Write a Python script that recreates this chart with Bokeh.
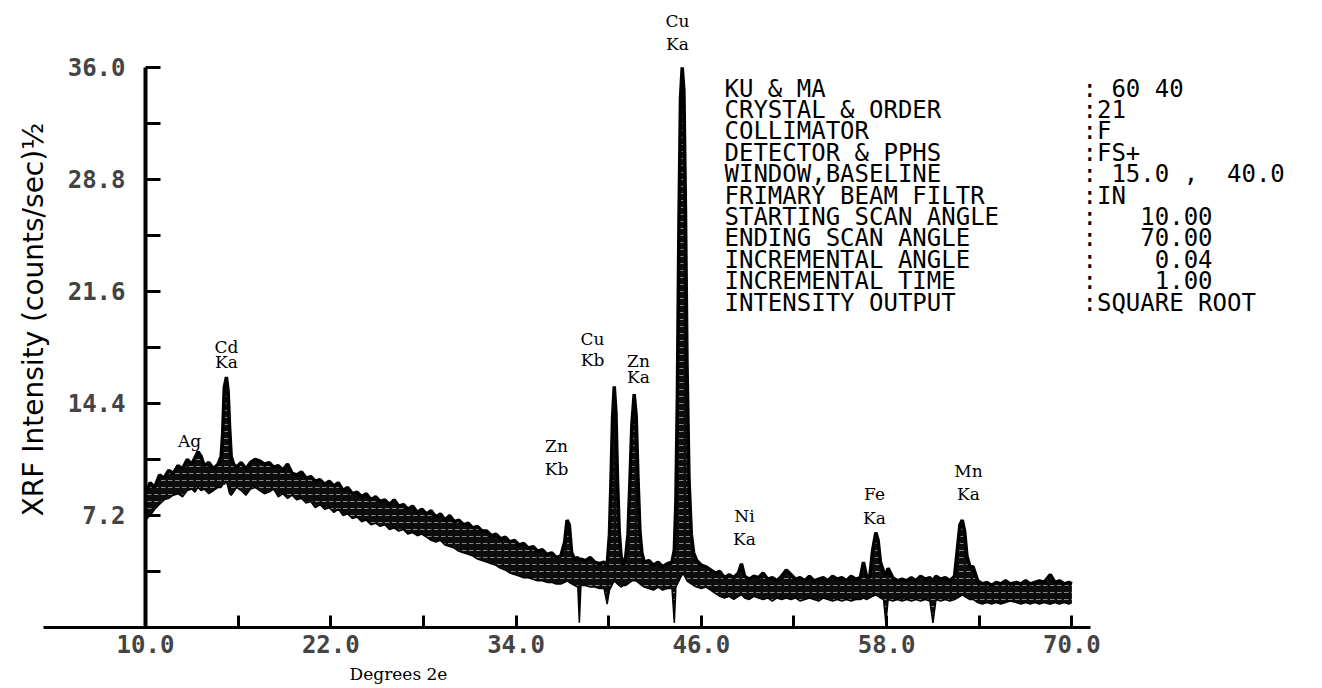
import math
from bokeh.plotting import figure
from bokeh.models import Range1d, FixedTicker, PrintfTickFormatter
from bokeh.embed import file_html
from bokeh.resources import INLINE
from bokeh.core.properties import value

# ---------------- data ----------------
angle = [10.0, 10.3, 10.6, 10.9, 11.2, 11.5, 11.8, 12.1, 12.4, 12.7, 13.0, 13.2, 13.4, 13.6, 13.8,
         14.1, 14.4, 14.7, 14.9, 15.0, 15.1, 15.24, 15.35, 15.45, 15.55, 15.7, 15.9, 16.2, 16.5, 16.8,
         17.1, 17.4, 17.7, 18.0, 18.3, 18.6, 18.9, 19.2, 19.5, 19.8, 20.1, 20.4, 20.7, 21.0, 21.3,
         21.6, 21.9, 22.2, 22.5, 22.8, 23.1, 23.4, 23.7, 24.0, 24.3, 24.6, 24.9, 25.2, 25.5, 25.8,
         26.1, 26.4, 26.7, 27.0, 27.3, 27.6, 27.9, 28.2, 28.5, 28.8, 29.1, 29.4, 29.7, 30.0, 30.3,
         30.6, 30.9, 31.2, 31.5, 31.8, 32.1, 32.4, 32.7, 33.0, 33.3, 33.6, 33.9, 34.2, 34.5, 34.8,
         35.1, 35.4, 35.7, 36.0, 36.3, 36.6, 36.9, 37.15, 37.3, 37.45, 37.6, 37.8, 38.0, 38.1, 38.2,
         38.5, 38.8, 39.1, 39.4, 39.7, 39.9, 40.05, 40.15, 40.25, 40.36, 40.47, 40.57, 40.68, 40.8, 40.95,
         41.1, 41.25, 41.38, 41.5, 41.65, 41.78, 41.9, 42.02, 42.15, 42.3, 42.6, 42.9, 43.2, 43.5, 43.8,
         44.1, 44.25, 44.35, 44.45, 44.55, 44.65, 44.76, 44.87, 44.97, 45.07, 45.2, 45.35, 45.5, 45.7, 46.0,
         46.3, 46.6, 46.9, 47.2, 47.5, 47.8, 48.1, 48.4, 48.6, 48.8, 49.1, 49.4, 49.7, 50.0, 50.3,
         50.6, 50.9, 51.2, 51.5, 51.8, 52.1, 52.4, 52.7, 53.0, 53.3, 53.6, 53.9, 54.2, 54.5, 54.8,
         55.1, 55.4, 55.7, 56.0, 56.3, 56.5, 56.7, 56.9, 57.1, 57.3, 57.45, 57.6, 57.8, 57.95, 58.1,
         58.4, 58.7, 59.0, 59.3, 59.6, 59.9, 60.2, 60.5, 60.8, 61.0, 61.2, 61.5, 61.8, 62.1, 62.4,
         62.6, 62.75, 62.9, 63.05, 63.2, 63.4, 63.6, 63.9, 64.2, 64.5, 64.8, 65.1, 65.4, 65.7, 66.0,
         66.4, 66.7, 67.0, 67.3, 67.6, 67.9, 68.2, 68.6, 68.9, 69.2, 69.5, 69.8, 70.0]
upper = [8.6, 9.3, 9.0, 9.8, 9.6, 10.1, 9.9, 10.4, 10.2, 10.8, 10.5, 10.9, 11.3, 11.0, 10.4,
         10.6, 10.2, 10.5, 11.0, 12.5, 15.4, 16.1, 15.2, 12.8, 11.0, 10.5, 10.3, 10.6, 10.2, 10.6,
         10.8, 10.7, 10.5, 10.6, 10.3, 10.4, 10.1, 10.5, 9.9, 9.8, 10.0, 9.6, 9.7, 9.4, 9.5,
         9.2, 9.4, 9.1, 9.3, 8.8, 9.0, 8.6, 8.7, 8.4, 8.6, 8.2, 8.4, 8.1, 8.2, 7.9,
         8.2, 7.8, 7.9, 7.6, 7.8, 7.4, 7.6, 7.3, 7.5, 7.1, 7.3, 6.9, 7.2, 6.8, 6.9,
         6.6, 6.7, 6.4, 6.5, 6.2, 6.2, 5.9, 6.0, 5.7, 5.8, 5.5, 5.6, 5.3, 5.4, 5.1,
         5.2, 4.9, 5.0, 4.7, 4.8, 4.5, 4.6, 5.5, 6.9, 6.6, 4.8, 4.4, 4.5, 4.3, 4.4,
         4.3, 4.5, 4.2, 4.1, 4.2, 4.0, 6.0, 9.5, 13.5, 15.5, 13.8, 9.5, 6.2, 4.6, 4.0,
         4.5, 6.0, 9.5, 13.0, 15.0, 13.6, 9.5, 6.2, 4.8, 4.2, 4.3, 4.0, 4.2, 3.9, 4.1,
         4.2, 5.0, 8.0, 15.0, 26.0, 34.0, 36.0, 34.5, 27.0, 17.0, 9.5, 6.0, 4.8, 4.3, 4.0,
         3.9, 3.7, 3.5, 3.6, 3.2, 3.4, 3.2, 3.5, 4.1, 3.3, 3.1, 3.3, 3.2, 3.5, 3.1,
         3.2, 3.0, 3.3, 3.7, 3.4, 3.1, 3.2, 3.0, 3.3, 3.0, 3.1, 3.2, 3.0, 3.3, 3.1,
         3.2, 3.0, 3.3, 3.1, 3.2, 4.2, 3.3, 3.2, 5.0, 6.1, 5.6, 4.2, 3.6, 3.4, 3.8,
         3.2, 3.0, 3.1, 3.0, 3.2, 3.0, 3.3, 3.1, 3.2, 3.0, 3.3, 3.1, 3.2, 3.0, 3.3,
         5.2, 6.6, 6.9, 6.2, 4.6, 3.9, 3.9, 3.0, 2.8, 2.9, 2.7, 2.9, 2.8, 3.0, 2.8,
         2.9, 2.8, 3.0, 2.8, 2.9, 3.0, 2.9, 3.4, 2.9, 3.0, 2.8, 2.9, 2.8]
lower = [6.9, 7.2, 7.6, 7.9, 8.2, 8.3, 8.5, 8.6, 8.4, 8.8, 8.9, 8.7, 9.0, 8.8, 8.9,
         8.6, 8.8, 9.0, 9.0, 9.2, 9.2, 9.4, 9.0, 8.6, 8.5, 8.7, 9.0, 8.8, 8.5, 8.9,
         9.0, 8.8, 8.6, 8.7, 8.9, 8.4, 8.6, 8.3, 8.5, 8.2, 8.3, 8.0, 8.1, 7.7, 7.9,
         7.6, 7.7, 7.4, 7.6, 7.2, 7.3, 7.0, 7.1, 6.8, 6.9, 6.6, 6.7, 6.5, 6.6, 6.3,
         6.4, 6.2, 6.3, 6.0, 6.1, 5.9, 6.0, 5.8, 5.6, 5.5, 5.6, 5.3, 5.2, 5.1, 4.9,
         4.8, 4.7, 4.6, 4.4, 4.3, 4.2, 4.1, 4.0, 3.8, 3.7, 3.5, 3.4, 3.3, 3.2, 3.2,
         3.1, 3.0, 3.0, 2.9, 2.9, 2.8, 2.8, 2.9, 3.0, 2.9, 2.8, 2.7, 2.6, 0.3, 2.7,
         2.7, 2.6, 2.6, 2.5, 2.5, 1.5, 2.4, 2.6, 2.8, 3.0, 2.9, 2.8, 2.7, 2.6, 2.7,
         2.7, 2.8, 2.9, 3.0, 3.0, 3.0, 2.9, 2.8, 2.7, 2.6, 2.5, 2.4, 2.6, 2.4, 2.5,
         2.5, 0.3, 2.6, 2.8, 3.0, 3.2, 3.4, 3.4, 3.2, 3.0, 2.9, 2.8, 2.7, 2.6, 2.5,
         2.6, 2.4, 2.2, 2.0, 1.9, 2.0, 1.8, 2.0, 2.1, 1.9, 1.8, 2.0, 1.9, 1.8, 1.9,
         1.7, 1.9, 1.8, 1.9, 1.8, 1.9, 1.7, 1.8, 1.9, 1.8, 1.7, 1.9, 1.8, 1.7, 1.8,
         1.7, 1.8, 1.7, 1.8, 1.8, 1.9, 1.8, 1.9, 2.0, 2.1, 2.0, 1.9, 1.8, 0.3, 1.8,
         1.7, 1.8, 1.7, 1.8, 1.7, 1.8, 1.7, 1.8, 1.7, 0.3, 1.8, 1.7, 1.8, 1.7, 1.8,
         1.9, 2.0, 2.1, 2.0, 1.9, 1.8, 1.8, 1.6, 1.5, 1.6, 1.5, 1.6, 1.5, 1.6, 1.7,
         1.6, 1.5, 1.6, 1.5, 1.6, 1.5, 1.6, 1.5, 1.6, 1.5, 1.6, 1.5, 1.6]

# axis ticks
x_ticks = [10, 22, 34, 46, 58, 70]
x_minor = [16, 28, 40, 52, 64]
y_ticks = [7.2, 14.4, 21.6, 28.8, 36.0]
y_minor = [3.6, 10.8, 18.0, 25.2, 32.4]

# titles
y_title = "XRF Intensity (counts/sec)½"
x_title = "Degrees 2e"

# peak identifications (element, line)
peak_element = ["Ag", "Cd", "Zn", "Cu", "Zn", "Cu", "Ni", "Fe", "Mn"]
peak_line = ["", "Ka", "Kb", "Kb", "Ka", "Ka", "Ka", "Ka", "Ka"]

# instrument settings printed on the chart
param_names = ["KU & MA", "CRYSTAL & ORDER", "COLLIMATOR", "DETECTOR & PPHS", "WINDOW,BASELINE",
               "FRIMARY BEAM FILTR", "STARTING SCAN ANGLE", "ENDING SCAN ANGLE",
               "INCREMENTAL ANGLE", "INCREMENTAL TIME", "INTENSITY OUTPUT"]
param_values = [": 60 40", ":21", ":F", ":FS+", ": 15.0 ,  40.0", ":IN", ":   10.00",
                ":   70.00", ":    0.04", ":    1.00", ":SQUARE ROOT"]

# ---------------- layout ----------------
W, H = 1322, 688
PX_DEG = 15.44      # pixels per degree
PX_UNIT = 15.56     # pixels per intensity unit
Y_AXIS_PX = 145     # screen x of the 10 deg axis
X_AXIS_PX = 627     # screen y (from top) of the zero line


def dx(px):
    return 10 + (px - Y_AXIS_PX) / PX_DEG


def dy(py):
    return (X_AXIS_PX - py) / PX_UNIT


p = figure(width=W, height=H, x_range=Range1d(dx(0), dx(W)), y_range=Range1d(dy(H), dy(0)),
           output_backend="svg", toolbar_location=None,
           min_border_left=0, min_border_right=0, min_border_top=0, min_border_bottom=0)
p.title.visible = False
p.outline_line_color = None
p.grid.visible = False
p.background_fill_color = "white"
p.border_fill_color = "white"

ya = p.yaxis[0]
ya.fixed_location = 10
ya.bounds = (0, 36)
ya.ticker = FixedTicker(ticks=y_ticks, minor_ticks=y_minor)
ya.formatter = PrintfTickFormatter(format="%.1f")
ya.axis_line_width = 4
ya.major_tick_in = 15
ya.major_tick_out = 0
ya.minor_tick_in = 15
ya.minor_tick_out = 0
ya.major_tick_line_width = 3
ya.minor_tick_line_width = 3
ya.major_label_text_font = "DejaVu Sans Mono"
ya.major_label_text_font_style = "bold"
ya.major_label_text_font_size = "24px"
ya.major_label_standoff = 20

xa = p.xaxis[0]
xa.fixed_location = 0
xa.bounds = (dx(43), dx(1090))
xa.ticker = FixedTicker(ticks=x_ticks, minor_ticks=x_minor)
xa.formatter = PrintfTickFormatter(format="%.1f")
xa.axis_line_width = 3
xa.major_tick_in = 12
xa.major_tick_out = 0
xa.minor_tick_in = 12
xa.minor_tick_out = 0
xa.major_tick_line_width = 3
xa.minor_tick_line_width = 3
xa.major_label_text_font = "DejaVu Sans Mono"
xa.major_label_text_font_style = "bold"
xa.major_label_text_font_size = "24px"
xa.major_label_standoff = 7

# spectrum band
p.varea(x=angle, y1=lower, y2=upper, fill_color="#0d0d0d",
        hatch_pattern="horizontal_dash", hatch_color="white", hatch_alpha=0.5,
        hatch_scale=7, hatch_weight=1)
p.line(angle, upper, line_color="black", line_width=3.5)
p.line(angle, lower, line_color="black", line_width=1.5)

# axis titles
p.text(x=[dx(33)], y=[dy(319)], text=[y_title], angle=math.pi / 2,
       text_font=value("DejaVu Sans"), text_font_size="28px",
       text_align="center", text_baseline="middle", text_color="black")
p.text(x=[dx(398)], y=[dy(673)], text=[x_title], text_font=value("DejaVu Serif"),
       text_font_size="17px", text_align="center", text_baseline="middle", text_color="black")

# peak labels (two stacked lines each)
lab_x = [dx(189), dx(226), dx(556), dx(592), dx(638), dx(677), dx(744), dx(874), dx(968)]
lab_y1 = [dy(440), dy(346), dy(445), dy(338), dy(360), dy(20), dy(515), dy(493), dy(470)]
lab_y2 = [dy(440), dy(361), dy(468), dy(359), dy(376), dy(43), dy(538), dy(517), dy(493)]
for ys_, txt in ((lab_y1, peak_element), (lab_y2, peak_line)):
    p.text(x=lab_x, y=ys_, text=txt, text_font=value("DejaVu Serif"), text_font_size="17px",
           text_align="center", text_baseline="middle", text_color="black")

# settings block (non-breaking spaces keep the printed column alignment)
n = len(param_names)
row_y = [dy(88 + 21.4 * i) for i in range(n)]
p.text(x=[dx(724)] * n, y=row_y, text=param_names, text_font=value("DejaVu Sans Mono"),
       text_font_size="24px", text_baseline="middle", text_align="left", text_color="black")
p.text(x=[dx(1082)] * n, y=row_y, text=[s.replace(" ", "\u00a0") for s in param_values],
       text_font=value("DejaVu Sans Mono"), text_font_size="24px",
       text_baseline="middle", text_align="left", text_color="black")

open("out.html", "w").write(file_html(p, INLINE))
